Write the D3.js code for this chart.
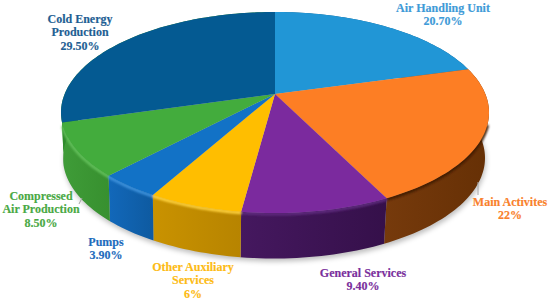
<!DOCTYPE html>
<html lang="en">
<head>
    <meta charset="UTF-8">
    <title>Energy consumption pie</title>
    <script src="https://cdn.jsdelivr.net/npm/d3@7"></script>
    <style>
        html, body { margin: 0; background: #fff; }
        svg { display: block; }
        text { font: bold 12px "Liberation Serif", serif; text-anchor: middle; }
    </style>
</head>
<body>
<div id="chart"></div>
<script>
    const categories = ["Air Handling Unit", "Main Activites", "General Services", "Other Auxiliary Services", "Pumps", "Compressed Air Production", "Cold Energy Production"];
    const shares = [20.7, 22, 9.4, 6, 3.9, 8.5, 29.5];
    const shareLabels = ["20.70%", "22%", "9.40%", "6%", "3.90%", "8.50%", "29.50%"];
    const labelLines = [["Air Handling Unit"], ["Main Activites"], ["General Services"], ["Other Auxiliary", "Services"], ["Pumps"], ["Compressed", "Air Production"], ["Cold Energy", "Production"]];

    const topColors = ["#2196d6", "#fd7e24", "#7b2a9e", "#ffbe00", "#1272c6", "#43ac3d", "#045a92"];
    const sideLeft = ["#14608c", "#763a0c", "#45185f", "#c99200", "#1268ba", "#3f9c38", "#2f8a2c"];
    const sideRight = ["#14608c", "#663005", "#35104a", "#b78400", "#0e5aa0", "#37902f", "#2f8a2c"];
    const bevelColors = ["#2196d6", "#3f1c02", "#5e2a7e", "#ffd23c", "#3d92dc", "#62c05a", "#045a92"];
    const textColors = ["#3f9bd8", "#f9812c", "#7a2f9c", "#fdbb14", "#1e6cbd", "#4aa945", "#1f5f94"];

    // label anchor: centre x, baseline of first line
    const labelAnchors = [[443, 12], [510, 206], [363, 277], [193, 271], [106, 246], [41, 200], [80, 23]];

    const width = 550, height = 301;
    const cx = 275, cy = 112.5, rx = 214, ry = 100.5;
    const depth = 45.5, cxBottom = 274, rxBottom = 211;
    const tilt = -0.185;   // perspective: moves the pie apex above the ellipse centre

    const svg = d3.select("#chart").append("svg")
        .attr("width", width)
        .attr("height", height)
        .attr("viewBox", [0, 0, width, height]);

    const defs = svg.append("defs");
    defs.append("filter").attr("id", "blur").attr("x", "-10%").attr("y", "-10%").attr("width", "120%").attr("height", "120%")
        .append("feGaussianBlur").attr("stdDeviation", 1);
    defs.append("filter").attr("id", "shadow").attr("x", "-10%").attr("y", "-10%").attr("width", "120%").attr("height", "130%")
        .append("feGaussianBlur").attr("stdDeviation", 2.5);

    const arcs = d3.pie().sort(null).value(d => d)(shares);

    // angle clockwise from the top -> unit disc with perspective
    function project(a) {
        const u = Math.sin(a), v = -Math.cos(a);
        const w = 1 + tilt * v;
        return [u * Math.sqrt(1 - tilt * tilt) / w, (v + tilt) / w];
    }

    const topPoint = a => {
        const p = project(a);
        return [cx + rx * p[0], cy + ry * p[1]];
    };
    const bottomPoint = a => {
        const p = project(a);
        return [cxBottom + rxBottom * p[0], cy + depth + ry * p[1]];
    };

    function sweep(d) {
        const n = Math.ceil((d.endAngle - d.startAngle) * 40);
        return d3.range(n + 1).map(i => d.startAngle + (d.endAngle - d.startAngle) * i / n);
    }

    const line = d3.line();

    const isFront = a => project(a)[1] > 0.1;

    // soft shadow under the disc
    const outline = d3.range(0, 2 * Math.PI, 0.02);
    svg.append("path")
        .attr("d", line(outline.map(a => {
            const p = bottomPoint(a);
            return [p[0] + 1, p[1] + 3];
        })) + "Z")
        .attr("fill", "#000")
        .attr("fill-opacity", 0.25)
        .attr("filter", "url(#shadow)");

    // gradient for each side wall
    arcs.forEach((d, i) => {
        const g = defs.append("linearGradient").attr("id", "side" + i);
        g.append("stop").attr("offset", 0).attr("stop-color", sideLeft[i]);
        g.append("stop").attr("offset", 1).attr("stop-color", sideRight[i]);
    });

    svg.append("g").selectAll("path")
        .data(arcs)
        .join("path")
        .attr("d", d => {
            const angles = sweep(d);
            return line(angles.map(topPoint).concat(angles.slice().reverse().map(bottomPoint))) + "Z";
        })
        .attr("fill", (d, i) => `url(#side${i})`);

    // small leader lines
    const leaders = [[[478, 182], [478, 195]], [[82, 198], [79, 204]]];
    svg.append("g").selectAll("path")
        .data(leaders)
        .join("path")
        .attr("d", line)
        .attr("stroke", "#a6a6a6")
        .attr("fill", "none");

    // bevel along the front edge of the top
    const bevel = svg.append("g").attr("filter", "url(#blur)");
    bevel.selectAll("path")
        .data(arcs)
        .join("path")
        .attr("d", d => {
            const angles = sweep(d).filter(isFront);
            return angles.length > 1 ? line(angles.map(a => {
                const p = topPoint(a);
                return [p[0], p[1] + 1];
            })) : null;
        })
        .attr("fill", "none")
        .attr("stroke", (d, i) => bevelColors[i])
        .attr("stroke-width", 3);

    // top surface
    svg.append("g").selectAll("path")
        .data(arcs)
        .join("path")
        .attr("d", d => line([[cx, cy + ry * tilt]].concat(sweep(d).map(topPoint))) + "Z")
        .attr("fill", (d, i) => topColors[i]);

    // labels
    const labels = svg.append("g").selectAll("text")
        .data(categories)
        .join("text")
        .attr("fill", (d, i) => textColors[i])
        .attr("stroke", (d, i) => textColors[i])
        .attr("stroke-width", 0.15)
        .attr("x", (d, i) => labelAnchors[i][0])
        .attr("y", (d, i) => labelAnchors[i][1]);

    labels.selectAll("tspan")
        .data((d, i) => labelLines[i].concat(shareLabels[i]).map(t => ({t, i})))
        .join("tspan")
        .attr("x", d => labelAnchors[d.i][0])
        .attr("dy", (d, j) => j ? 13.3 : 0)
        .text(d => d.t);
</script>
</body>
</html>
